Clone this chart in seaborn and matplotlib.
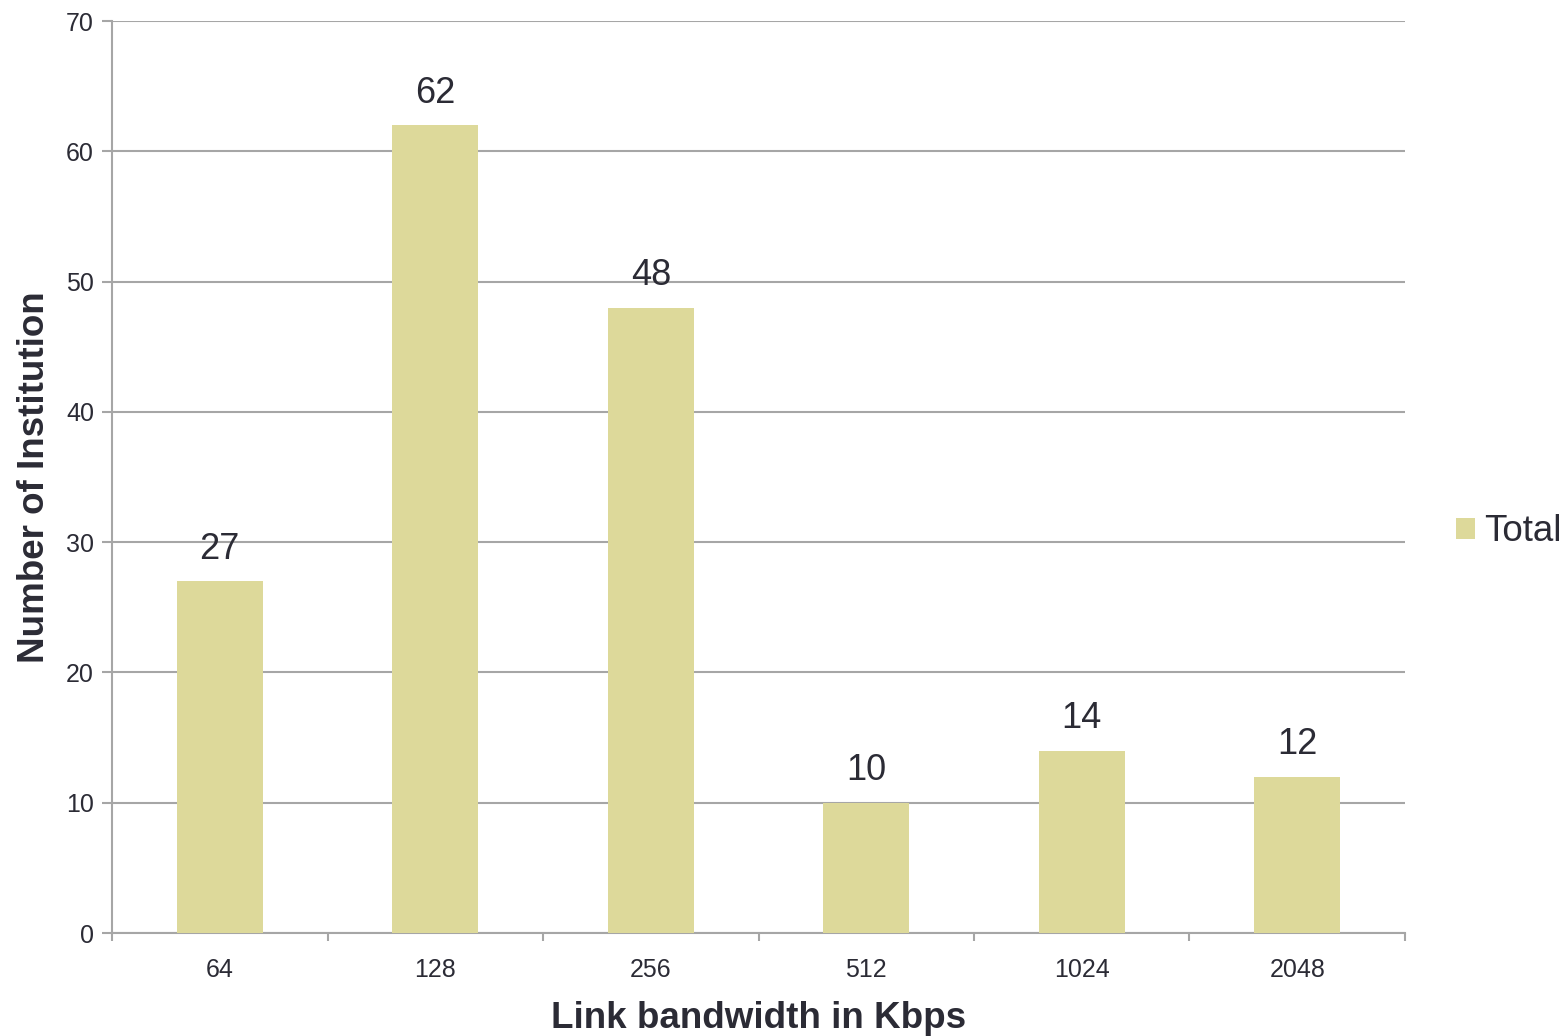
import numpy as np
import pandas as pd
import seaborn as sns
import matplotlib.pyplot as plt
from matplotlib.patches import Patch
from matplotlib.ticker import FixedLocator

# data
bandwidth = ["64", "128", "256", "512", "1024", "2048"]
institutions = [27, 62, 48, 10, 14, 12]

df = pd.DataFrame({"Bandwidth": bandwidth, "Total": institutions})

sns.set_style("white")
plt.rcParams['font.family'] = ['Liberation Sans', 'DejaVu Sans']

bar_color = "#DDD99A"
grid_color = "#A6A6A6"
text_color = "#2B2B35"

fig = plt.figure(figsize=(15.67, 10.36), dpi=100)
ax = fig.add_axes([0.0715, 0.0994, 0.8251, 0.8803])

sns.barplot(data=df, x="Bandwidth", y="Total", color=bar_color, width=0.4,
            saturation=1, linewidth=0, ax=ax, zorder=3)

# value labels
for i, v in enumerate(institutions):
    ax.text(i, v + 1.1, str(v), ha="center", va="bottom", fontsize=26, color=text_color)

ax.set_ylim(0, 70)
ax.set_xlim(-0.5, len(bandwidth) - 0.5)
ax.set_yticks(np.arange(0, 71, 10))
ax.yaxis.grid(True, color=grid_color, linewidth=1.5, zorder=0)
ax.xaxis.grid(False)

# category boundary ticks on x
ax.xaxis.set_minor_locator(FixedLocator(np.arange(-0.5, len(bandwidth), 1.0)))
ax.tick_params(axis="x", which="major", bottom=True, length=0, labelsize=18,
               labelcolor=text_color, pad=18)
ax.tick_params(axis="x", which="minor", bottom=True, length=6, width=1.5,
               color=grid_color, direction="out")
ax.tick_params(axis="y", left=True, length=7, width=1.5, color=grid_color, direction="out",
               labelsize=18, labelcolor=text_color, pad=6)

for s in ["top", "right"]:
    ax.spines[s].set_visible(False)
for s in ["left", "bottom"]:
    ax.spines[s].set_color(grid_color)
    ax.spines[s].set_linewidth(1.5)
ax.set_axisbelow(True)

ax.set_xlabel("Link bandwidth in Kbps", fontsize=26.5, fontweight="bold", color=text_color, labelpad=14)
ax.set_ylabel("Number of Institution", fontsize=26.5, fontweight="bold", color=text_color, labelpad=10)

handles = [Patch(facecolor=bar_color, edgecolor="none", label="Total")]
ax.legend(handles=handles, loc="center left", bbox_to_anchor=(1.014, 0.44), frameon=False,
          fontsize=26.5, handlelength=0.5, handleheight=0.5, handletextpad=0.25,
          labelcolor=text_color)

fig.savefig("out.png", dpi=100)
